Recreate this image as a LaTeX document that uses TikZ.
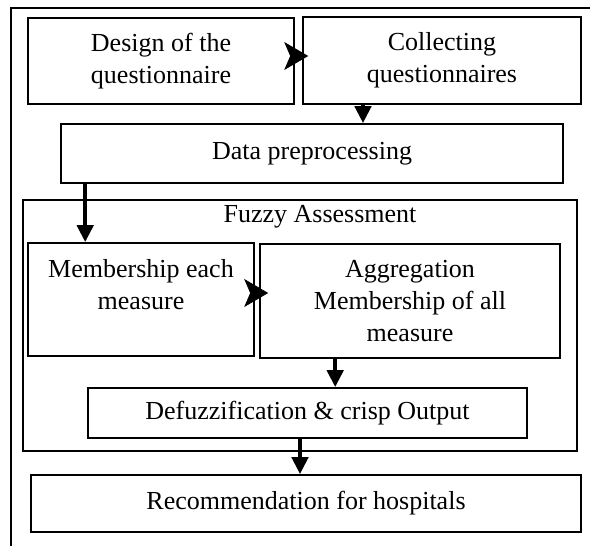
\documentclass[tikz,border=0pt]{standalone}
\usepackage{fontspec}
\setmainfont{Liberation Serif}
\usetikzlibrary{arrows.meta}
\tikzset{
  box/.style={draw, line width=1.6pt, inner sep=0pt, align=center, font=\fontsize{26}{32}\selectfont},
  txt/.style={inner sep=0pt, font=\fontsize{26}{32}\selectfont},
  down/.style={line width=4.5pt, -{Triangle[length=17pt,width=16pt]}},
  chev/.style={line width=0.8pt, -{Stealth[length=24pt,width=28pt,inset=6pt]}},
}
\begin{document}
\begin{tikzpicture}[x=1pt, y=-1pt, line join=miter]
\useasboundingbox (0,0) rectangle (590,546);
% outer frame
\draw[line width=1.6pt] (11,546) -- (11,8) -- (590,8);
% questionnaire
\node[box, minimum width=266pt, minimum height=86pt] (design) at (161,61) {Design of the\\questionnaire};
\node[box, minimum width=278pt, minimum height=87pt] (collect) at (442,60.5) {Collecting\\questionnaires};
\node[box, minimum width=502pt, minimum height=59pt] (prep) at (312,153.5) {Data preprocessing};
% fuzzy part
\node[draw, line width=1.6pt, minimum width=554pt, minimum height=251pt] (fuzzy) at (300,325.5) {};
\node[txt] (fuzzytitle) at (320,217) {Fuzzy Assessment};
\node[box, minimum width=226pt, minimum height=113pt, text height=50pt, text depth=30pt] (memb) at (141,299.5) {Membership each\\measure};
\node[box, minimum width=300pt, minimum height=114pt] (aggr) at (410,301) {Aggregation\\Membership of all\\measure};
\node[box, minimum width=439pt, minimum height=50pt] (defuzz) at (307.5,413) {Defuzzification \& crisp Output};
\node[box, minimum width=550pt, minimum height=57pt] (recom) at (306,503.5) {Recommendation for hospitals};
% arrows
\draw[chev, shorten >=-6pt] ([yshift=5pt]design.east) -- ([yshift=5pt]design.east -| collect.west);
\draw[down] ([xshift=-79pt]collect.south) -- ([xshift=-79pt]collect.south |- prep.north);
\draw[down] ([xshift=25pt]prep.south west) -- ([xshift=25pt]prep.south west |- memb.north);
\draw[chev, shorten >=-9pt] ([yshift=6.5pt]memb.east) -- ([yshift=6.5pt]memb.east -| aggr.west);
\draw[down] ([xshift=76pt]aggr.south west) -- ([xshift=76pt]aggr.south west |- defuzz.north);
\draw[down] ([xshift=-7.5pt]defuzz.south) -- ([xshift=-7.5pt]defuzz.south |- recom.north);
\end{tikzpicture}
\end{document}
